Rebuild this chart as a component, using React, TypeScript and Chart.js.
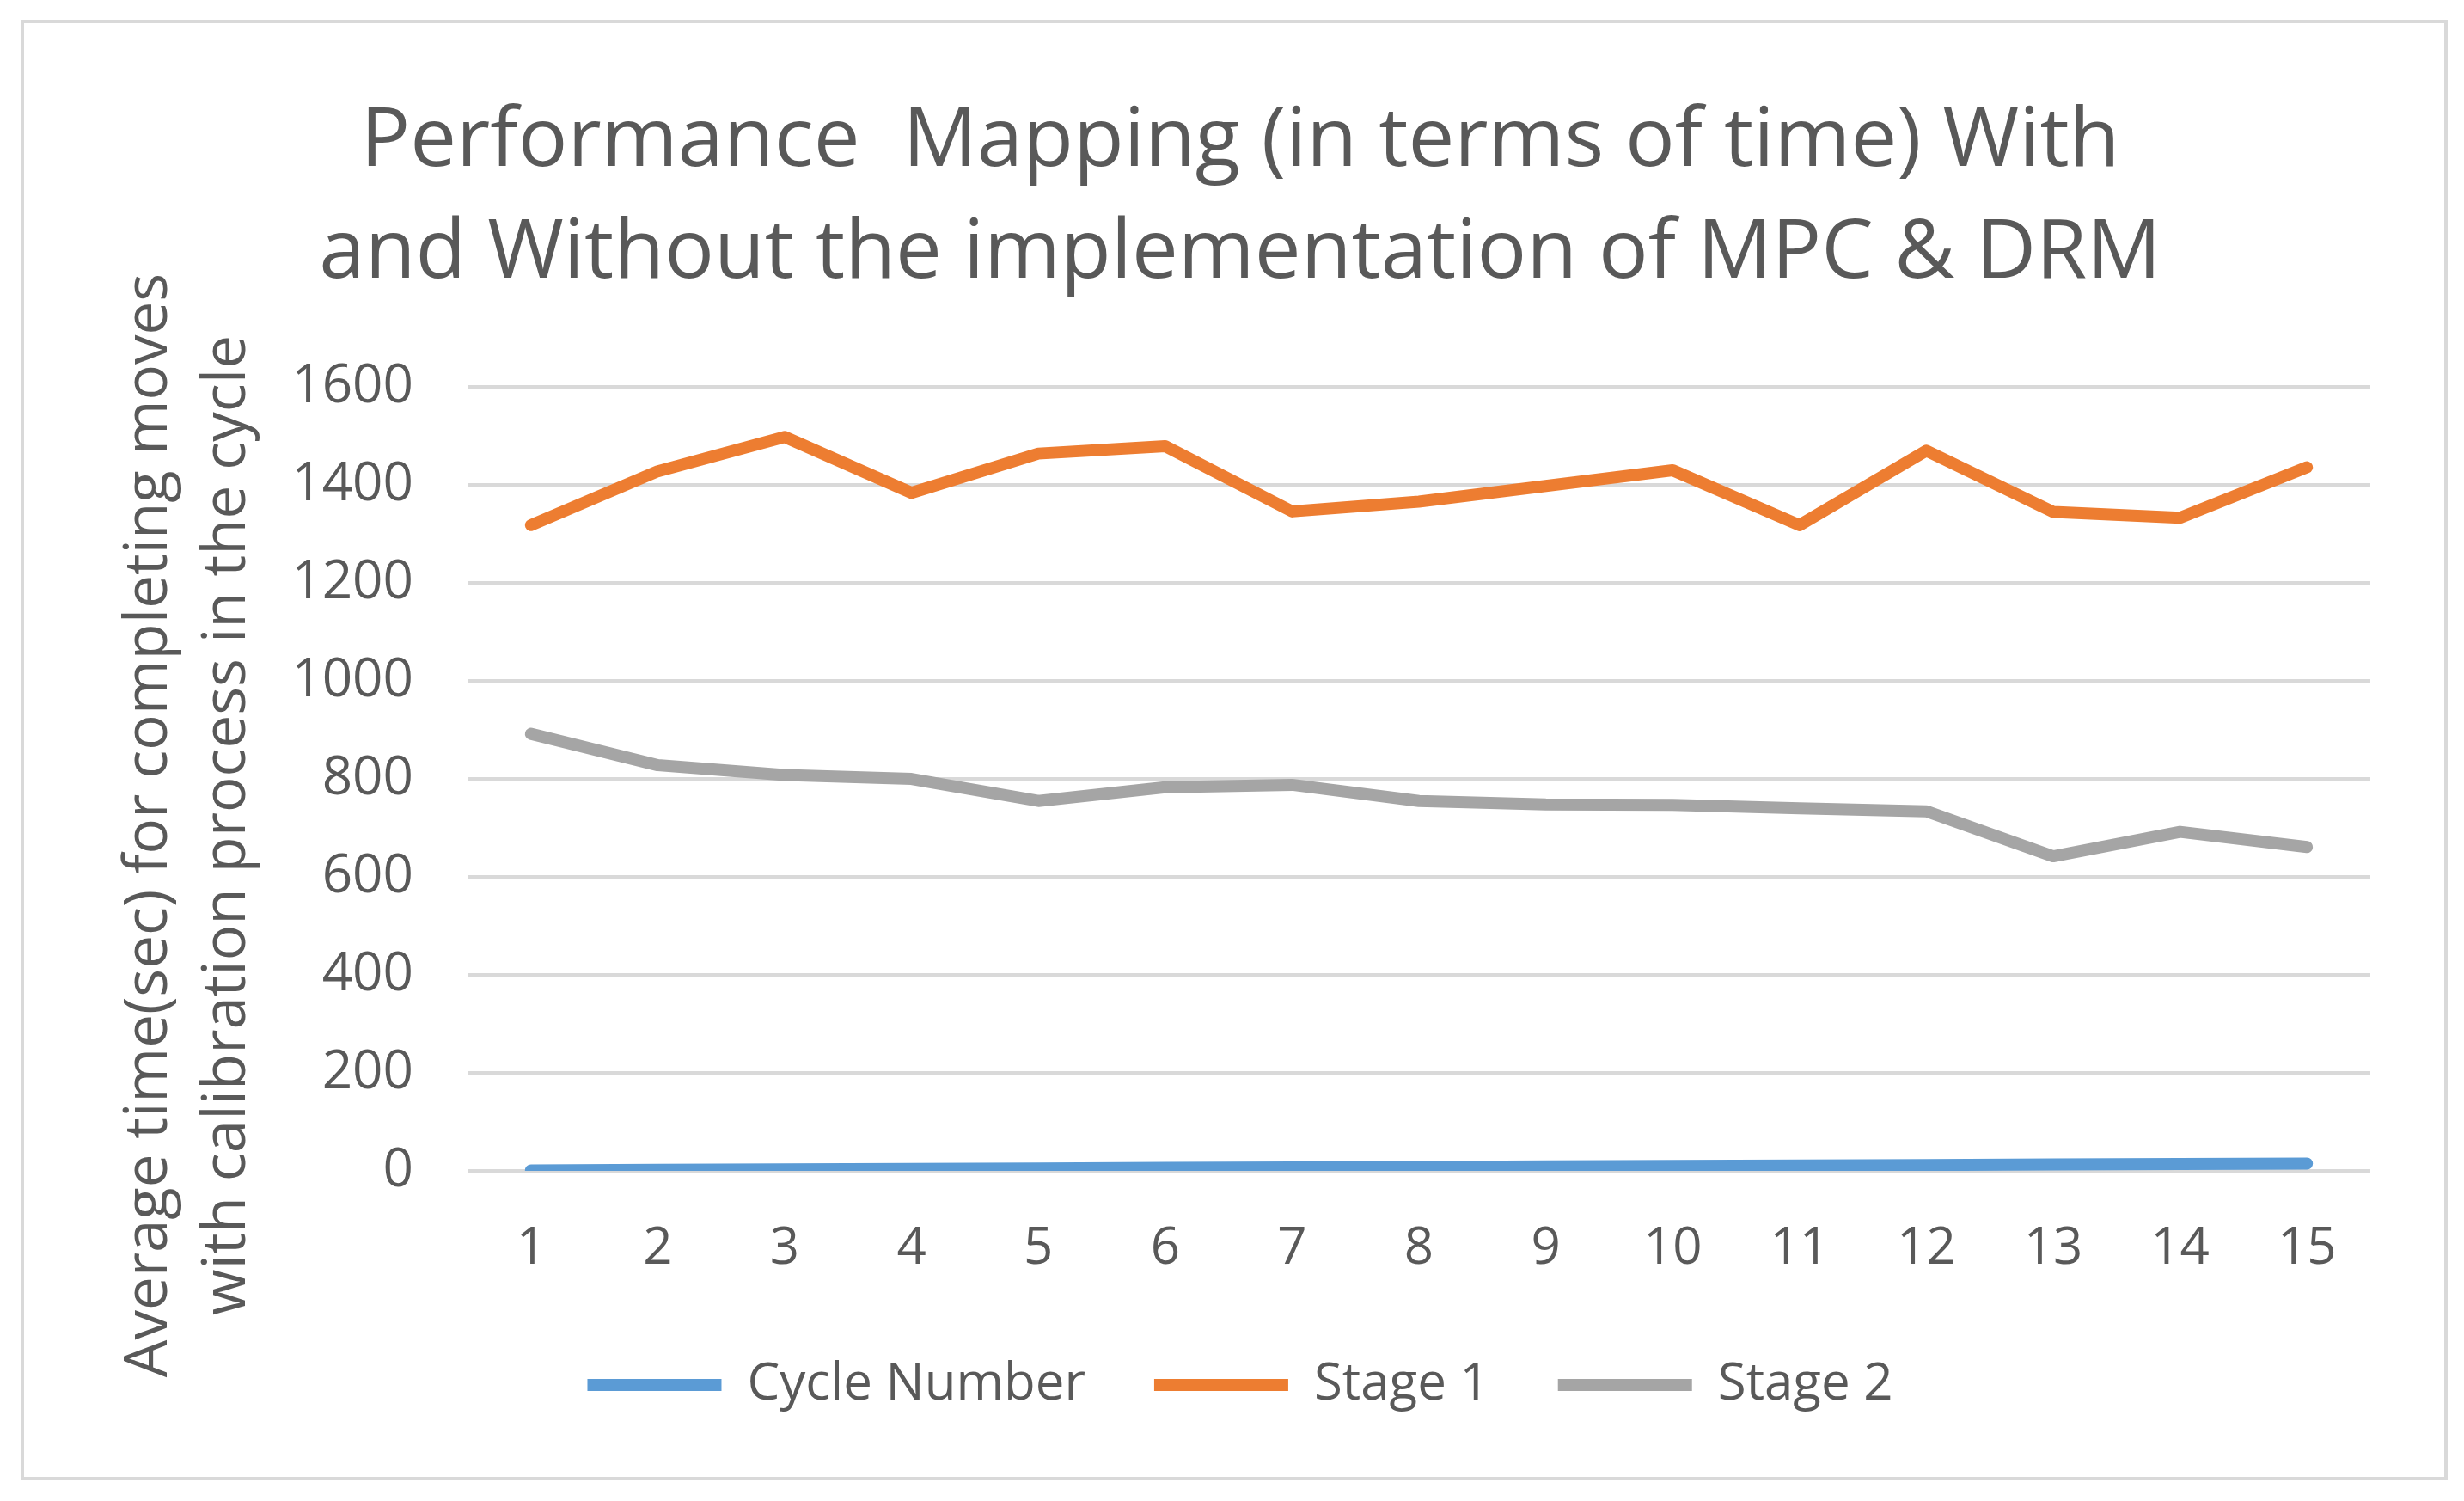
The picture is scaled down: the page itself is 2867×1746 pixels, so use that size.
import React, { useEffect, useRef } from 'react';
import { Chart, registerables } from 'chart.js';

Chart.register(...registerables);

const categories = ['1', '2', '3', '4', '5', '6', '7', '8', '9', '10', '11', '12', '13', '14', '15'];
const cycleNumber = [1, 2, 3, 4, 5, 6, 7, 8, 9, 10, 11, 12, 13, 14, 15];
const stage1 = [1318, 1428, 1498, 1384, 1464, 1479, 1346, 1366, 1398, 1430, 1318, 1470, 1345, 1333, 1436];
const stage2 = [892, 828, 808, 800, 755, 783, 788, 755, 748, 747, 740, 734, 642, 692, 661];
const seriesNames = ['Cycle Number', 'Stage 1', 'Stage 2'];
const seriesColors = ['#5B9BD5', '#ED7D31', '#A5A5A5'];
const titleLines = ['Performance  Mapping (in terms of time) With', 'and Without the implementation of MPC & DRM'];
const yTitleLines = ['Average time(sec) for completing moves', 'with calibration process in the cycle'];
const yMin = 0;
const yMax = 1600;
const yStep = 200;

const FONT = '"Open Sans", "Noto Sans", sans-serif';
const TEXT = '#595959';

const yTitlePlugin = {
  id: 'yTitlePlugin',
  afterDraw(chart: any) {
    const ctx = chart.ctx;
    ctx.save();
    ctx.fillStyle = TEXT;
    ctx.font = `69px ${FONT}`;
    ctx.textAlign = 'center';
    ctx.textBaseline = 'middle';
    const cy = 960;
    const xs = [174, 265];
    yTitleLines.forEach((line, i) => {
      ctx.save();
      ctx.translate(xs[i], cy);
      ctx.rotate(-Math.PI / 2);
      ctx.fillText(line, 0, 0);
      ctx.restore();
    });
    ctx.restore();
  },
};

export default function App() {
  const ref = useRef<HTMLCanvasElement | null>(null);

  useEffect(() => {
    if (!ref.current) return;
    const datasets = [cycleNumber, stage1, stage2].map((d, i) => ({
      label: seriesNames[i],
      data: d,
      borderColor: seriesColors[i],
      backgroundColor: seriesColors[i],
      borderWidth: 14,
      pointRadius: 0,
      borderCapStyle: 'round' as const,
      borderJoinStyle: 'round' as const,
      tension: 0,
    }));
    const chart = new Chart(ref.current, {
      type: 'line',
      data: { labels: categories, datasets },
      plugins: [yTitlePlugin],
      options: {
        animation: false,
        responsive: false,
        maintainAspectRatio: false,
        devicePixelRatio: 1,
        layout: { padding: { left: 128, right: 109, top: 0, bottom: 95 } },
        plugins: {
          title: {
            display: true,
            text: titleLines,
            color: TEXT,
            font: { family: FONT, size: 96, weight: 'normal', lineHeight: 1.36 },
            padding: { top: 100, bottom: 89 },
          },
          legend: {
            position: 'bottom',
            labels: {
              boxWidth: 156,
              boxHeight: 14,
              padding: 80,
              color: TEXT,
              font: { family: FONT, size: 60 },
              generateLabels: (c: any) =>
                Chart.defaults.plugins.legend.labels.generateLabels(c).map((l: any) => ({
                  ...l,
                  lineWidth: 0,
                  strokeStyle: 'transparent',
                })),
            },
          },
          tooltip: { enabled: false },
        },
        scales: {
          x: {
            offset: true,
            grid: { display: false, drawTicks: false },
            border: { display: false },
            ticks: { padding: 55, color: TEXT, font: { family: FONT, size: 60 } },
            afterFit: (s: any) => {
              s.height = 139;
            },
          },
          y: {
            min: yMin,
            max: yMax,
            ticks: {
              stepSize: yStep,
              padding: 63,
              color: TEXT,
              font: { family: FONT, size: 62 },
              callback: (v: any) => String(v),
            },
            grid: { color: '#D9D9D9', lineWidth: 4, drawTicks: false },
            border: { display: false },
            afterFit: (s: any) => {
              s.width = 544 - 128;
            },
          },
        },
      },
    });
    return () => chart.destroy();
  }, []);

  return (
    <div style={{ position: 'fixed', left: 0, top: 0, width: 2867, height: 1746, background: '#fff' }}>
      <div
        style={{
          position: 'absolute',
          left: 24,
          top: 23,
          width: 2816,
          height: 1691,
          border: '4px solid #D9D9D9',
        }}
      />
      <canvas
        ref={ref}
        width={2867}
        height={1746}
        style={{ position: 'absolute', left: 0, top: 0, width: 2867, height: 1746 }}
      />
    </div>
  );
}
